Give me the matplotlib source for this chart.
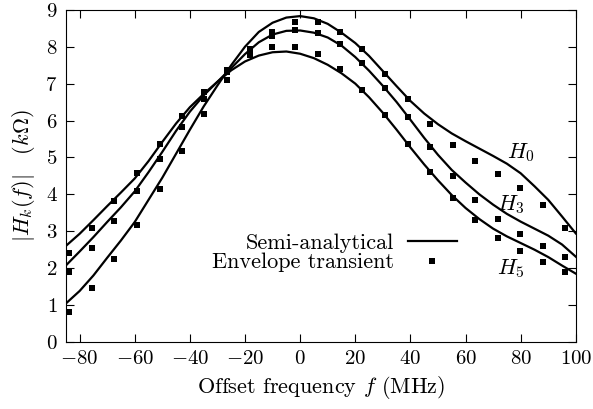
import matplotlib
matplotlib.use("Agg")
from matplotlib import pyplot as plt

plt.rcParams['font.family'] = 'serif'
plt.rcParams['font.serif'] = ['cmr10']
plt.rcParams['mathtext.fontset'] = 'cm'
plt.rcParams['axes.formatter.use_mathtext'] = True

# semi-analytical curves
f_curve = [-85, -80, -75, -70, -65, -60, -55, -50, -45, -40, -35, -30, -25, -20,
           -15, -10, -5, 0, 5, 10, 15, 20, 25, 30, 35, 40, 45, 50, 55, 60,
           65, 70, 75, 80, 85, 90, 95, 100]
h0_curve = [1.04, 1.38, 1.80, 2.28, 2.75, 3.25, 3.85, 4.45, 5.10, 5.75, 6.38, 6.95, 7.50, 8.00,
            8.40, 8.65, 8.79, 8.83, 8.77, 8.62, 8.38, 8.10, 7.75, 7.34, 6.93, 6.53, 6.19, 5.90, 5.65, 5.44,
            5.24, 5.04, 4.83, 4.57, 4.22, 3.85, 3.40, 2.94]
h3_curve = [2.07, 2.45, 2.84, 3.25, 3.65, 4.08, 4.60, 5.15, 5.72, 6.24, 6.68, 7.05, 7.42, 7.80,
            8.12, 8.33, 8.43, 8.44, 8.38, 8.25, 8.03, 7.72, 7.35, 6.94, 6.50, 6.02, 5.53, 5.07, 4.66, 4.32,
            4.00, 3.72, 3.47, 3.26, 3.07, 2.88, 2.64, 2.31]
h5_curve = [2.60, 2.93, 3.30, 3.68, 4.05, 4.43, 4.90, 5.42, 5.92, 6.36, 6.72, 7.05, 7.36, 7.60,
            7.76, 7.85, 7.87, 7.81, 7.69, 7.51, 7.28, 7.00, 6.63, 6.21, 5.75, 5.27, 4.81, 4.38, 3.98, 3.63,
            3.33, 3.07, 2.86, 2.68, 2.50, 2.30, 2.07, 1.85]

# envelope transient points
f_pts = [-83.8, -75.6, -67.4, -59.2, -51.0, -42.8, -34.7, -26.5, -18.3, -10.1, -1.9, 6.3,
         14.4, 22.6, 30.8, 39.0, 47.1, 55.3, 63.5, 71.7, 79.9, 88.0, 96.2]
h0_pts = [0.80, 1.46, 2.24, 3.16, 4.14, 5.17, 6.17, 7.09, 7.93, 8.40, 8.66, 8.66,
          8.39, 7.93, 7.26, 6.59, 5.90, 5.33, 4.90, 4.55, 4.17, 3.71, 3.10]
h3_pts = [1.89, 2.54, 3.27, 4.08, 4.95, 5.82, 6.59, 7.32, 7.86, 8.30, 8.45, 8.37,
          8.07, 7.56, 6.88, 6.09, 5.28, 4.49, 3.85, 3.33, 2.92, 2.61, 2.30]
h5_pts = [2.40, 3.08, 3.81, 4.57, 5.36, 6.12, 6.78, 7.36, 7.78, 7.98, 7.98, 7.80,
          7.39, 6.82, 6.14, 5.36, 4.61, 3.89, 3.30, 2.81, 2.46, 2.16, 1.90]

fig = plt.figure(figsize=(5.93, 4.09), dpi=100)
ax = fig.add_axes([0.111, 0.164, 0.86, 0.812])

ax.plot(f_curve, h0_curve, color='black', lw=1.6, label='Semi-analytical')
ax.plot(f_curve, h3_curve, color='black', lw=1.6)
ax.plot(f_curve, h5_curve, color='black', lw=1.6)
ax.plot(f_pts, h0_pts, 's', color='black', ms=3.8, mew=0, label='Envelope transient')
ax.plot(f_pts, h3_pts, 's', color='black', ms=3.8, mew=0)
ax.plot(f_pts, h5_pts, 's', color='black', ms=3.8, mew=0)

ax.text(79.9, 5.12, r'$H_0$', fontsize=16, ha='center', va='center')
ax.text(76.3, 3.71, r'$H_3$', fontsize=16, ha='center', va='center')
ax.text(76.3, 2.0, r'$H_5$', fontsize=16, ha='center', va='center')

ax.set_xlim(-85, 100)
ax.set_ylim(0, 9)
ax.set_xticks(range(-80, 101, 20))
ax.set_yticks(range(0, 10))
ax.tick_params(direction='in', top=True, right=True, length=6, labelsize=15, pad=6)
ax.set_xlabel(r'Offset frequency $f$ (MHz)', fontsize=16, labelpad=4)
ax.set_ylabel(r'$|H_k(f)|\quad(k\Omega)$', fontsize=16, labelpad=6)

ax.legend(loc='center', bbox_to_anchor=(0.527, 0.268), frameon=False, markerfirst=False,
          fontsize=16, handlelength=2.2, labelspacing=0.0, borderpad=0, handletextpad=0.6)

fig.savefig('out.png', dpi=100)
